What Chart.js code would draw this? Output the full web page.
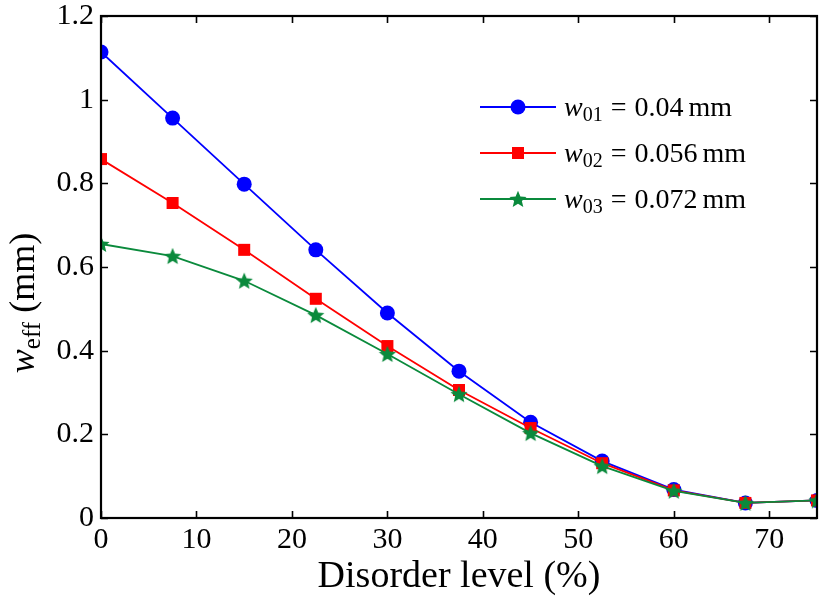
<!DOCTYPE html>
<html>
<head>
<meta charset="utf-8">
<script src="https://cdn.jsdelivr.net/npm/chart.js@4/dist/chart.umd.min.js"></script>
<style>
html,body{margin:0;padding:0;background:#fff;}
#wrap{width:826px;height:600px;}
</style>
</head>
<body>
<div id="wrap"><canvas id="c" width="826" height="600"></canvas></div>
<script>
// ---- data ----
const disorderLevels = [0, 7.5, 15, 22.5, 30, 37.5, 45, 52.5, 60, 67.5, 75];
const w01Values = [1.114, 0.956, 0.798, 0.641, 0.490, 0.351, 0.229, 0.136, 0.068, 0.036, 0.042];
const w02Values = [0.858, 0.753, 0.641, 0.524, 0.411, 0.306, 0.215, 0.131, 0.066, 0.036, 0.042];
const w03Values = [0.655, 0.626, 0.567, 0.485, 0.392, 0.296, 0.203, 0.124, 0.065, 0.036, 0.042];
const xTickValues = [0, 10, 20, 30, 40, 50, 60, 70];
const yTickValues = [0, 0.2, 0.4, 0.6, 0.8, 1, 1.2];
const seriesLabels = [
  {sub: '01', rest: ' = 0.04 mm'},
  {sub: '02', rest: ' = 0.056 mm'},
  {sub: '03', rest: ' = 0.072 mm'}
];
const xTitle = 'Disorder level (%)';
const yTitleMain = 'w', yTitleSub = 'eff', yTitleRest = ' (mm)';

const BLUE = '#0000ff', RED = '#ff0000', GREEN = '#0a8a3c';
const SERIF = '"Liberation Serif", "Times New Roman", serif';

function makeStar(r, color) {
  const s = Math.ceil(r * 2 + 2);
  const cv = document.createElement('canvas');
  cv.width = s; cv.height = s;
  const g = cv.getContext('2d');
  drawStarPath(g, s / 2, s / 2 + r * 0.08, r, r * 0.45);
  g.fillStyle = color; g.fill();
  return cv;
}
function drawStarPath(g, cx, cy, ro, ri) {
  g.beginPath();
  for (let i = 0; i < 10; i++) {
    const rr = i % 2 === 0 ? ro : ri;
    const a = -Math.PI / 2 + i * Math.PI / 5;
    const px = cx + rr * Math.cos(a), py = cy + rr * Math.sin(a);
    if (i === 0) g.moveTo(px, py); else g.lineTo(px, py);
  }
  g.closePath();
}
const starImg = makeStar(9, GREEN);

function pts(vals) { return disorderLevels.map((x, i) => ({x: x, y: vals[i]})); }

const framePlugin = {
  id: 'frame',
  afterDatasetsDraw(chart) {
    const {ctx, chartArea: a, scales} = chart;
    ctx.save();
    ctx.strokeStyle = '#000';
    ctx.lineWidth = 1.6;
    const tl = 7;
    ctx.beginPath();
    scales.x.ticks.forEach(t => {
      const px = Math.round(scales.x.getPixelForValue(t.value)) + 0.5;
      ctx.moveTo(px, a.bottom); ctx.lineTo(px, a.bottom - tl);
      ctx.moveTo(px, a.top); ctx.lineTo(px, a.top + tl);
    });
    scales.y.ticks.forEach(t => {
      const py = Math.round(scales.y.getPixelForValue(t.value)) + 0.5;
      ctx.moveTo(a.left, py); ctx.lineTo(a.left + tl, py);
      ctx.moveTo(a.right, py); ctx.lineTo(a.right - tl, py);
    });
    ctx.stroke();
    ctx.lineWidth = 2.2;
    ctx.strokeRect(a.left, a.top, a.right - a.left, a.bottom - a.top);
    ctx.restore();
  },
  afterDraw(chart) {
    const ctx = chart.ctx;
    // y axis title with subscript
    ctx.save();
    ctx.fillStyle = '#000';
    ctx.textBaseline = 'alphabetic';
    const fMain = 'italic 36px ' + SERIF, fSub = '25px ' + SERIF, fRest = '36px ' + SERIF;
    ctx.font = fMain; const w1 = ctx.measureText(yTitleMain).width;
    ctx.font = fSub; const w2 = ctx.measureText(yTitleSub).width;
    ctx.font = fRest; const w3 = ctx.measureText(yTitleRest).width;
    const total = w1 + w2 + w3;
    ctx.translate(34, 303);
    ctx.rotate(-Math.PI / 2);
    let x0 = -total / 2;
    ctx.font = fMain; ctx.fillText(yTitleMain, x0, 0); x0 += w1;
    ctx.font = fSub; ctx.fillText(yTitleSub, x0, 6); x0 += w2;
    ctx.font = fRest; ctx.fillText(yTitleRest, x0, 0);
    ctx.restore();

    // legend
    const rows = [107, 153, 199];
    const colors = [BLUE, RED, GREEN];
    ctx.save();
    rows.forEach((ry, i) => {
      ctx.strokeStyle = colors[i]; ctx.lineWidth = 1.8;
      ctx.beginPath(); ctx.moveTo(480, ry); ctx.lineTo(556, ry); ctx.stroke();
      ctx.fillStyle = colors[i];
      if (i === 0) { ctx.beginPath(); ctx.arc(518, ry, 7.5, 0, Math.PI * 2); ctx.fill(); }
      else if (i === 1) { ctx.fillRect(518 - 6, ry - 6, 12, 12); }
      else { drawStarPath(ctx, 518, ry + 0.7, 9, 9 * 0.45); ctx.fill(); }
      ctx.fillStyle = '#000';
      ctx.textBaseline = 'alphabetic';
      let tx = 564; const by = ry + 9;
      ctx.font = 'italic 28px ' + SERIF; ctx.fillText('w', tx, by); tx += ctx.measureText('w').width;
      ctx.font = '20px ' + SERIF; ctx.fillText(seriesLabels[i].sub, tx, by + 5); tx += ctx.measureText(seriesLabels[i].sub).width;
      ctx.font = '28px ' + SERIF;
      const parts = seriesLabels[i].rest.trim().split(' '); // '=', value, 'mm'
      tx += 8; ctx.fillText(parts[0], tx, by); tx += ctx.measureText(parts[0]).width + 8;
      ctx.fillText(parts[1], tx, by); tx += ctx.measureText(parts[1]).width + 5;
      ctx.fillText(parts[2], tx, by);
    });
    ctx.restore();
  }
};

new Chart(document.getElementById('c'), {
  type: 'line',
  data: {
    datasets: [
      {label: 'w01', data: pts(w01Values), borderColor: BLUE, backgroundColor: BLUE, pointStyle: 'circle', pointRadius: 7.5, pointBorderWidth: 0, borderWidth: 1.8, order: 3},
      {label: 'w02', data: pts(w02Values), borderColor: RED, backgroundColor: RED, pointStyle: 'rect', pointRadius: 8.5, pointBorderWidth: 0, borderWidth: 1.8, order: 2},
      {label: 'w03', data: pts(w03Values), borderColor: GREEN, backgroundColor: GREEN, pointStyle: starImg, pointRadius: 9, pointBorderWidth: 0, borderWidth: 1.8, order: 1}
    ]
  },
  options: {
    responsive: false,
    animation: false,
    layout: {padding: {left: 0, right: 9, top: 16, bottom: 0}},
    plugins: {legend: {display: false}, tooltip: {enabled: false}},
    elements: {line: {tension: 0}},
    scales: {
      x: {
        type: 'linear', min: 0, max: 75,
        grid: {display: false, drawTicks: false},
        border: {display: false},
        ticks: {color: '#000', font: {family: SERIF, size: 30}, padding: 4, maxRotation: 0, autoSkip: false},
        afterBuildTicks: s => { s.ticks = xTickValues.map(v => ({value: v})); },
        title: {display: true, text: xTitle, color: '#000', font: {family: SERIF, size: 38}, padding: {top: 0, bottom: 0}},
        afterFit: s => { s.height = 82; s.paddingLeft = 0; s.paddingRight = 0; }
      },
      y: {
        type: 'linear', min: 0, max: 1.2,
        grid: {display: false, drawTicks: false},
        border: {display: false},
        ticks: {color: '#000', font: {family: SERIF, size: 30}, padding: 7, autoSkip: false,
          callback: v => String(Number(v.toFixed(1)))},
        afterBuildTicks: s => { s.ticks = yTickValues.map(v => ({value: v})); },
        afterFit: s => { s.width = 101; s.paddingTop = 0; s.paddingBottom = 0; }
      }
    }
  },
  plugins: [framePlugin]
});
</script>
</body>
</html>
